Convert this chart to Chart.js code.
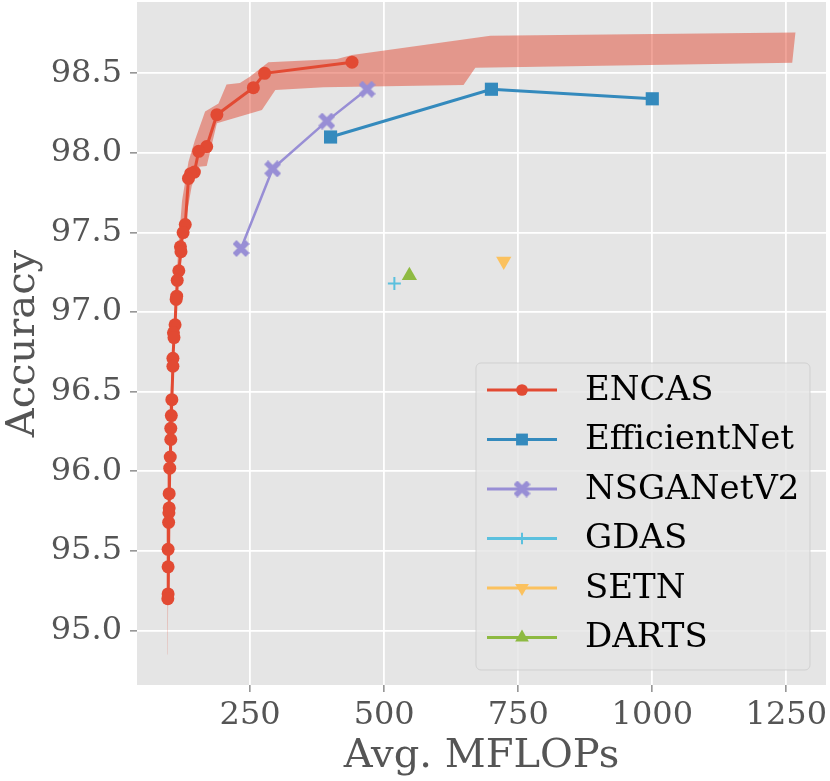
<!DOCTYPE html>
<html>
<head>
<meta charset="utf-8">
<script src="https://cdn.jsdelivr.net/npm/chart.js@4.4.1/dist/chart.umd.min.js"></script>
<style>
  html, body { margin: 0; padding: 0; background: #fff; }
  #wrap { width: 830px; height: 781px; }
</style>
</head>
<body>
<div id="wrap"><canvas id="chart" width="830" height="781"></canvas></div>
<script>
"use strict"

// values (x = avg. MFLOPs, y = accuracy)
const encasX = [440, 277, 256, 188, 169, 154, 146, 139, 135, 129, 125, 120, 121, 117, 114, 113, 112, 110, 107, 108,
  106, 106, 104, 103, 102, 102, 101, 100, 99, 99, 98.5, 98, 97, 97, 97, 96.5];
const encasY = [98.57, 98.50, 98.41, 98.24, 98.04, 98.01, 97.88, 97.87, 97.84, 97.55, 97.50, 97.41, 97.38, 97.26, 97.20, 97.10, 97.08, 96.92, 96.87, 96.84,
  96.71, 96.66, 96.45, 96.35, 96.27, 96.20, 96.09, 96.02, 95.86, 95.77, 95.74, 95.68, 95.51, 95.40, 95.23, 95.20];

// shaded band around ENCAS: left/top edge and right/bottom edge
const bandUpperX = [96, 96, 101, 108, 116, 123, 135, 147, 166, 191, 206, 231, 250, 284, 412, 440, 698, 1267];
const bandUpperY = [94.85, 95.2, 96.45, 96.95, 97.40, 97.70, 97.945, 98.08, 98.26, 98.31, 98.43, 98.44, 98.48, 98.57, 98.59, 98.615, 98.736, 98.757];
const bandLowerX = [1261, 670, 648, 387, 297, 272, 188, 169, 154, 141, 132, 120, 110, 104, 97, 96.5];
const bandLowerY = [98.567, 98.535, 98.426, 98.412, 98.395, 98.27, 98.186, 97.918, 97.913, 97.79, 97.62, 97.30, 96.92, 96.45, 95.19, 94.85];

const effX = [400, 700, 1000];
const effY = [98.10, 98.40, 98.34];

const nsgaX = [233, 292, 393, 468];
const nsgaY = [97.40, 97.90, 98.20, 98.40];

const gdasX = [519];
const gdasY = [97.18];
const setnX = [723];
const setnY = [97.32];
const dartsX = [547];
const dartsY = [97.23];

const xTicks = [250, 500, 750, 1000, 1250];
const yTicks = [95.0, 95.5, 96.0, 96.5, 97.0, 97.5, 98.0, 98.5];

const FONT = "'DejaVu Serif', serif";

function pts(xs, ys) {
  return xs.map((x, i) => ({ x: x, y: ys[i] }));
}

// filled "X" marker like matplotlib's
function xMarker(color, size, thick) {
  const c = document.createElement("canvas");
  c.width = size;
  c.height = size;
  const g = c.getContext("2d");
  g.strokeStyle = color;
  g.lineWidth = thick;
  g.beginPath();
  g.moveTo(2, 2); g.lineTo(size - 2, size - 2);
  g.moveTo(size - 2, 2); g.lineTo(2, size - 2);
  g.stroke();
  return c;
}

const bandPoly = pts(bandUpperX, bandUpperY).concat(pts(bandLowerX, bandLowerY));

function series(label, xs, ys, color, style, extra) {
  return Object.assign({
    label: label,
    data: pts(xs, ys),
    showLine: true,
    borderColor: color,
    backgroundColor: color,
    pointBackgroundColor: color,
    pointBorderColor: color,
    pointStyle: style,
    pointBorderWidth: 0,
    order: 1,
  }, extra);
}

const datasets = [
  {
    label: "band",
    data: bandPoly,
    showLine: true,
    fill: "shape",
    backgroundColor: "rgba(226, 74, 51, 0.5)",
    borderWidth: 0,
    pointRadius: 0,
    order: 10,
  },
  series("ENCAS", encasX, encasY, "#E24A33", "circle", { borderWidth: 3, pointRadius: 6.5 }),
  series("EfficientNet", effX, effY, "#348ABD", "rect", { borderWidth: 3, pointRadius: 9.3 }),
  series("NSGANetV2", nsgaX, nsgaY, "#988ED5", xMarker("#988ED5", 17, 5.5), { borderWidth: 2.5, pointRadius: 9 }),
  series("GDAS", gdasX, gdasY, "#5BC0DE", "cross", { showLine: false, borderWidth: 2.5, pointRadius: 6.5, pointBorderWidth: 2 }),
  series("SETN", setnX, setnY, "#FBC15E", "triangle", { showLine: false, borderWidth: 2.5, pointRadius: 8.8, pointRotation: 180 }),
  series("DARTS", dartsX, dartsY, "#8EBA42", "triangle", { showLine: false, borderWidth: 2.5, pointRadius: 8.8 }),
];

// grey panel behind the plot, ggplot style
const panelBg = {
  id: "panelBg",
  beforeDraw(chart) {
    const { ctx, chartArea: a } = chart;
    ctx.save();
    ctx.fillStyle = "#fff";
    ctx.fillRect(0, 0, chart.width, chart.height);
    ctx.fillStyle = "#E5E5E5";
    ctx.fillRect(a.left, a.top, a.right - a.left, a.bottom - a.top);
    ctx.restore();
  }
};

// matplotlib-like legend: line sample with marker, inside the lower right corner
const lineLegend = {
  id: "lineLegend",
  afterDraw(chart) {
    const { ctx, chartArea: a } = chart;
    const items = chart.data.datasets.filter(d => d.label !== "band");
    const boxR = a.right - 16, boxB = a.bottom - 15;
    const boxL = boxR - 334, boxT = boxB - 307;
    ctx.save();
    ctx.beginPath();
    ctx.roundRect(boxL, boxT, boxR - boxL, boxB - boxT, 5);
    ctx.fillStyle = "rgba(229, 229, 229, 0.8)";
    ctx.fill();
    ctx.strokeStyle = "rgba(204, 204, 204, 0.8)";
    ctx.lineWidth = 1;
    ctx.stroke();

    items.forEach((d, i) => {
      const y = boxT + 27 + i * 49.5;
      const x0 = boxL + 11, x1 = boxL + 81, xm = (x0 + x1) / 2;
      ctx.strokeStyle = d.borderColor;
      ctx.lineWidth = 3;
      ctx.beginPath();
      ctx.moveTo(x0, y);
      ctx.lineTo(x1, y);
      ctx.stroke();
      ctx.fillStyle = d.pointBackgroundColor;
      ctx.strokeStyle = d.pointBorderColor;
      ctx.lineWidth = d.pointBorderWidth;
      Chart.helpers.drawPoint(ctx, {
        pointStyle: d.pointStyle,
        radius: d.pointRadius * 0.9,
        rotation: d.pointRotation || 0,
        borderWidth: d.pointBorderWidth,
      }, xm, y);
      ctx.fillStyle = "#000";
      ctx.font = "34px " + FONT;
      ctx.textBaseline = "middle";
      ctx.fillText(d.label, boxL + 109, y + 1);
    });
    ctx.restore();
  }
};

const axisFont = { family: FONT, size: 32 };
const titleFont = { family: FONT, size: 40 };

const config = {
  type: "scatter",
  data: { datasets: datasets },
  options: {
    responsive: false,
    animation: false,
    layout: { autoPadding: false, padding: { left: 0, right: 4, top: 2, bottom: 0 } },
    plugins: {
      legend: { display: false },
      tooltip: { enabled: false },
    },
    scales: {
      x: {
        type: "linear",
        min: 39,
        max: 1324,
        afterBuildTicks: s => { s.ticks = xTicks.map(v => ({ value: v })); },
        afterFit: s => { s.height = 96; s.paddingLeft = 0; s.paddingRight = 0; },
        grid: { color: "#fff", lineWidth: 1.8, tickColor: "#555", tickLength: 7, tickWidth: 1 },
        border: { display: false },
        ticks: { color: "#555", font: axisFont, padding: 4, maxRotation: 0, callback: v => String(v) },
        title: { display: true, text: "Avg. MFLOPs", color: "#555", font: titleFont, padding: { top: 0, bottom: 0 } },
      },
      y: {
        type: "linear",
        min: 94.658,
        max: 98.948,
        afterBuildTicks: s => { s.ticks = yTicks.map(v => ({ value: v })); },
        afterFit: s => { s.width = 137; s.paddingTop = 0; s.paddingBottom = 0; },
        grid: { color: "#fff", lineWidth: 1.8, tickColor: "#555", tickLength: 7, tickWidth: 1 },
        border: { display: false },
        ticks: { color: "#555", font: axisFont, padding: 8, callback: v => Number(v).toFixed(1) },
        title: { display: true, text: "Accuracy", color: "#555", font: titleFont, padding: { top: 0, bottom: 0 } },
      },
    },
  },
  plugins: [panelBg, lineLegend],
};

const chart = new Chart(document.getElementById("chart"), config);
</script>
</body>
</html>
